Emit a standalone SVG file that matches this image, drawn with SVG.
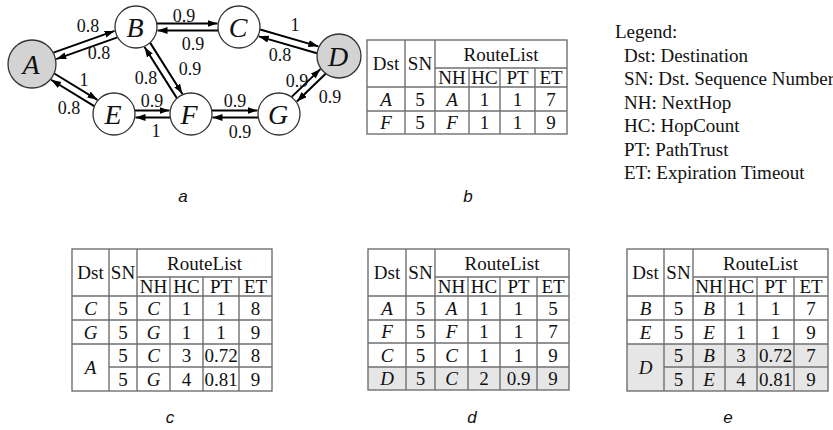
<svg xmlns="http://www.w3.org/2000/svg" width="833" height="430" viewBox="0 0 833 430">
<defs>
<marker id="ah" markerUnits="userSpaceOnUse" markerWidth="11" markerHeight="8" refX="10" refY="3.5" orient="auto">
<path d="M0,0 L10,3.5 L0,7 z" fill="#000"/>
</marker>
<style>
.n{fill:#fff;stroke:#333;stroke-width:1.3}
.g{fill:#d3d3d3}
.nl{font-family:"Liberation Serif",serif;font-style:italic;font-size:28px;text-anchor:middle;fill:#111}
.lbl{font-family:"Liberation Serif",serif;font-size:18px;text-anchor:middle;fill:#111}
.e line{stroke:#000;stroke-width:2;marker-end:url(#ah)}
.t{font-family:"Liberation Serif",serif;font-size:19px;text-anchor:middle;fill:#111}
.i{font-style:italic}
.tl{stroke:#707070;stroke-width:1.4;fill:none}
.sh{fill:#e6e6e6}
.cap{font-family:"Liberation Sans",sans-serif;font-style:italic;font-size:17px;text-anchor:middle;fill:#111}
.lg{font-family:"Liberation Serif",serif;font-size:19px;fill:#111}
</style>
</defs>
<rect width="833" height="430" fill="#fff"/>

<g id="connectors" class="e">
<g transform="translate(32,64) rotate(-19.58)"><line x1="24" y1="-3.5" x2="88.9" y2="-3.5"/><line x1="89.4" y1="3.5" x2="24.5" y2="3.5"/></g>
<g transform="translate(32,64) rotate(31.37)"><line x1="24" y1="-3.5" x2="74.5" y2="-3.5"/><line x1="75" y1="3.5" x2="24.5" y2="3.5"/></g>
<g transform="translate(136,27)"><line x1="21" y1="-3.5" x2="81.5" y2="-3.5"/><line x1="82" y1="3.5" x2="21.5" y2="3.5"/></g>
<g transform="translate(239,27) rotate(16.17)"><line x1="21" y1="-3.5" x2="81.6" y2="-3.5"/><line x1="82.1" y1="3.5" x2="21.5" y2="3.5"/></g>
<g transform="translate(191,114) rotate(-122.3)"><line x1="21" y1="-3.5" x2="81.4" y2="-3.5"/><line x1="81.9" y1="3.5" x2="21.5" y2="3.5"/></g>
<g transform="translate(114,114)"><line x1="21" y1="-3.5" x2="55.5" y2="-3.5"/><line x1="56" y1="3.5" x2="21.5" y2="3.5"/></g>
<g transform="translate(191,114)"><line x1="21" y1="-3.5" x2="66.5" y2="-3.5"/><line x1="67" y1="3.5" x2="21.5" y2="3.5"/></g>
<g transform="translate(279,114) rotate(-44.03)"><line x1="21" y1="-3.5" x2="60.95" y2="-3.5"/><line x1="61.45" y1="3.5" x2="21.5" y2="3.5"/></g>
</g>

<g id="edge-labels">
<text class="lbl" x="88" y="32">0.8</text>
<text class="lbl" x="99" y="59">0.8</text>
<text class="lbl" x="84" y="86">1</text>
<text class="lbl" x="69" y="114">0.8</text>
<text class="lbl" x="146" y="84">0.8</text>
<text class="lbl" x="152" y="107">0.9</text>
<text class="lbl" x="156" y="137">1</text>
<text class="lbl" x="184" y="22">0.9</text>
<text class="lbl" x="193" y="50">0.9</text>
<text class="lbl" x="190" y="75">0.9</text>
<text class="lbl" x="295" y="31">1</text>
<text class="lbl" x="280" y="61">0.8</text>
<text class="lbl" x="297" y="87">0.9</text>
<text class="lbl" x="330" y="103">0.9</text>
<text class="lbl" x="235" y="107">0.9</text>
<text class="lbl" x="240" y="138">0.9</text>
</g>

<g id="node-A"><circle class="n g" cx="32" cy="64" r="24"/><text class="nl" x="31" y="74">A</text></g>
<g id="node-B"><circle class="n" cx="136" cy="27" r="21"/><text class="nl" x="135" y="37">B</text></g>
<g id="node-C"><circle class="n" cx="239" cy="27" r="21"/><text class="nl" x="238" y="37">C</text></g>
<g id="node-D"><circle class="n g" cx="339" cy="56" r="22"/><text class="nl" x="338" y="66">D</text></g>
<g id="node-E"><circle class="n" cx="114" cy="114" r="21"/><text class="nl" x="113" y="124">E</text></g>
<g id="node-F"><circle class="n" cx="191" cy="114" r="21"/><text class="nl" x="189" y="124">F</text></g>
<g id="node-G"><circle class="n" cx="279" cy="114" r="21"/><text class="nl" x="278" y="124">G</text></g>

<g id="table-b">
<rect class="tl" x="367" y="40" width="200" height="94"/>
<path class="tl" d="M405,40V134M435,40V134M469,68V134M500,68V134M535,68V134M435,68H567M367,87H567M367,111H567"/>
<text class="t" x="386" y="70">Dst</text><text class="t" x="420" y="70">SN</text>
<text class="t" x="501" y="60.5">RouteList</text>
<text class="t" x="452" y="84">NH</text><text class="t" x="484.5" y="84">HC</text><text class="t" x="517.5" y="84">PT</text><text class="t" x="551" y="84">ET</text>
<text class="t i" x="386" y="105.5">A</text><text class="t" x="420" y="105.5">5</text><text class="t i" x="452" y="105.5">A</text><text class="t" x="484.5" y="105.5">1</text><text class="t" x="517.5" y="105.5">1</text><text class="t" x="551" y="105.5">7</text>
<text class="t i" x="386" y="129">F</text><text class="t" x="420" y="129">5</text><text class="t i" x="452" y="129">F</text><text class="t" x="484.5" y="129">1</text><text class="t" x="517.5" y="129">1</text><text class="t" x="551" y="129">9</text>
</g>

<g id="legend">
<text class="lg" x="615" y="38">Legend:</text>
<text class="lg" x="624" y="61.5">Dst: Destination</text>
<text class="lg" x="624" y="85">SN: Dst. Sequence Number</text>
<text class="lg" x="624" y="108.5">NH: NextHop</text>
<text class="lg" x="624" y="132">HC: HopCount</text>
<text class="lg" x="624" y="155.5">PT: PathTrust</text>
<text class="lg" x="624" y="179">ET: Expiration Timeout</text>
</g>

<g id="table-c">
<rect class="tl" x="72" y="249" width="200" height="142"/>
<path class="tl" d="M109,249V391M137,249V391M170,277V391M203,277V391M239,277V391M137,277H272M72,296H272M72,320H272M72,344H272M109,367H272"/>
<text class="t" x="90.5" y="279">Dst</text><text class="t" x="123" y="279">SN</text>
<text class="t" x="204.5" y="269.5">RouteList</text>
<text class="t" x="153.5" y="293">NH</text><text class="t" x="186.5" y="293">HC</text><text class="t" x="221" y="293">PT</text><text class="t" x="255.5" y="293">ET</text>
<text class="t i" x="90.5" y="314.5">C</text><text class="t" x="123" y="314.5">5</text><text class="t i" x="153.5" y="314.5">C</text><text class="t" x="186.5" y="314.5">1</text><text class="t" x="221" y="314.5">1</text><text class="t" x="255.5" y="314.5">8</text>
<text class="t i" x="90.5" y="338.5">G</text><text class="t" x="123" y="338.5">5</text><text class="t i" x="153.5" y="338.5">G</text><text class="t" x="186.5" y="338.5">1</text><text class="t" x="221" y="338.5">1</text><text class="t" x="255.5" y="338.5">9</text>
<text class="t i" x="90.5" y="374">A</text>
<text class="t" x="123" y="362">5</text><text class="t i" x="153.5" y="362">C</text><text class="t" x="186.5" y="362">3</text><text class="t" x="221" y="362">0.72</text><text class="t" x="255.5" y="362">8</text>
<text class="t" x="123" y="385.5">5</text><text class="t i" x="153.5" y="385.5">G</text><text class="t" x="186.5" y="385.5">4</text><text class="t" x="221" y="385.5">0.81</text><text class="t" x="255.5" y="385.5">9</text>
</g>

<g id="table-d">
<rect class="sh" x="368" y="367" width="201" height="23"/>
<rect class="tl" x="368" y="249" width="201" height="141"/>
<path class="tl" d="M406,249V390M435,249V390M468,277V390M500,277V390M537,277V390M435,277H569M368,296H569M368,320H569M368,343H569M368,367H569"/>
<text class="t" x="387" y="279">Dst</text><text class="t" x="420.5" y="279">SN</text>
<text class="t" x="502" y="269.5">RouteList</text>
<text class="t" x="451.5" y="293">NH</text><text class="t" x="484" y="293">HC</text><text class="t" x="518.5" y="293">PT</text><text class="t" x="553" y="293">ET</text>
<text class="t i" x="387" y="314.5">A</text><text class="t" x="420.5" y="314.5">5</text><text class="t i" x="451.5" y="314.5">A</text><text class="t" x="484" y="314.5">1</text><text class="t" x="518.5" y="314.5">1</text><text class="t" x="553" y="314.5">5</text>
<text class="t i" x="387" y="338">F</text><text class="t" x="420.5" y="338">5</text><text class="t i" x="451.5" y="338">F</text><text class="t" x="484" y="338">1</text><text class="t" x="518.5" y="338">1</text><text class="t" x="553" y="338">7</text>
<text class="t i" x="387" y="361.5">C</text><text class="t" x="420.5" y="361.5">5</text><text class="t i" x="451.5" y="361.5">C</text><text class="t" x="484" y="361.5">1</text><text class="t" x="518.5" y="361.5">1</text><text class="t" x="553" y="361.5">9</text>
<text class="t i" x="387" y="385">D</text><text class="t" x="420.5" y="385">5</text><text class="t i" x="451.5" y="385">C</text><text class="t" x="484" y="385">2</text><text class="t" x="518.5" y="385">0.9</text><text class="t" x="553" y="385">9</text>
</g>

<g id="table-e">
<rect class="sh" x="627" y="344" width="201" height="47"/>
<rect class="tl" x="627" y="249" width="201" height="142"/>
<path class="tl" d="M664,249V391M693,249V391M725,277V391M757,277V391M794,277V391M693,277H828M627,296H828M627,320H828M627,344H828M664,367H828"/>
<text class="t" x="645.5" y="279">Dst</text><text class="t" x="678.5" y="279">SN</text>
<text class="t" x="760.5" y="269.5">RouteList</text>
<text class="t" x="709" y="293">NH</text><text class="t" x="741" y="293">HC</text><text class="t" x="775.5" y="293">PT</text><text class="t" x="811" y="293">ET</text>
<text class="t i" x="645.5" y="314.5">B</text><text class="t" x="678.5" y="314.5">5</text><text class="t i" x="709" y="314.5">B</text><text class="t" x="741" y="314.5">1</text><text class="t" x="775.5" y="314.5">1</text><text class="t" x="811" y="314.5">7</text>
<text class="t i" x="645.5" y="338.5">E</text><text class="t" x="678.5" y="338.5">5</text><text class="t i" x="709" y="338.5">E</text><text class="t" x="741" y="338.5">1</text><text class="t" x="775.5" y="338.5">1</text><text class="t" x="811" y="338.5">9</text>
<text class="t i" x="645.5" y="374">D</text>
<text class="t" x="678.5" y="362">5</text><text class="t i" x="709" y="362">B</text><text class="t" x="741" y="362">3</text><text class="t" x="775.5" y="362">0.72</text><text class="t" x="811" y="362">7</text>
<text class="t" x="678.5" y="385.5">5</text><text class="t i" x="709" y="385.5">E</text><text class="t" x="741" y="385.5">4</text><text class="t" x="775.5" y="385.5">0.81</text><text class="t" x="811" y="385.5">9</text>
</g>

<g id="captions">
<text class="cap" x="183" y="202">a</text>
<text class="cap" x="468" y="202">b</text>
<text class="cap" x="170" y="423">c</text>
<text class="cap" x="472" y="423">d</text>
<text class="cap" x="728" y="423">e</text>
</g>
</svg>
